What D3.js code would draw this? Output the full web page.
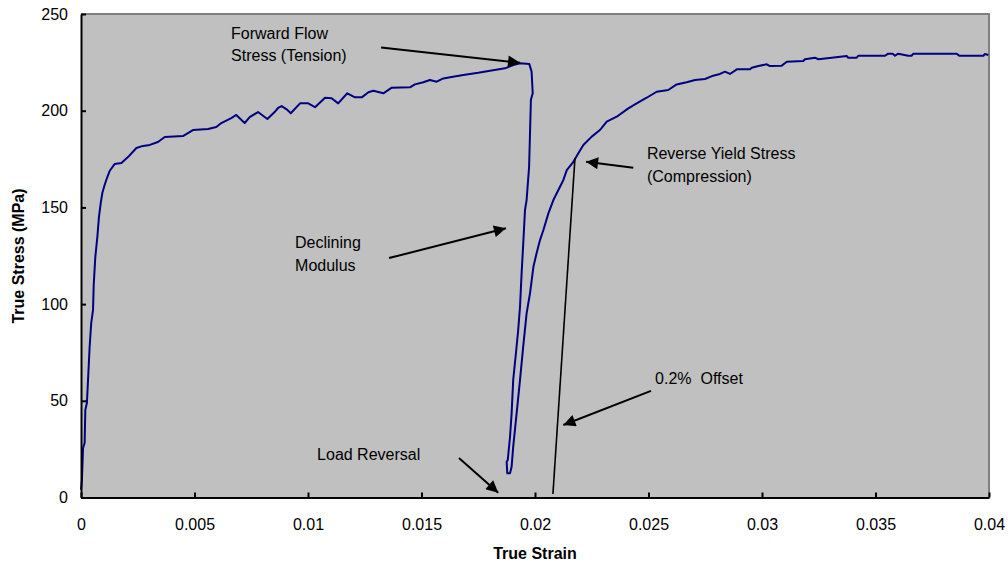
<!DOCTYPE html>
<html><head><meta charset="utf-8">
<script src="https://cdn.jsdelivr.net/npm/d3@7"></script>
<style>body{margin:0;background:#fff}svg{display:block}text{font-family:"Liberation Sans",Arial,sans-serif;white-space:pre}</style>
</head><body><svg id="c" width="1008" height="565"></svg>
<script>
// Strain values (true strain) and stress values (MPa)
const strain = [0,0.00004,0.00009,0.00016,0.00019,0.00026,0.00031,0.00038,0.00045,0.00053,0.00056,0.00063,0.00072,0.00079,0.00087,0.00094,0.00104,0.00116,0.00126,0.00148,0.00178,0.00207,0.00244,0.00273,0.00303,0.00339,0.00369,0.00449,0.00493,0.0056,0.00596,0.00618,0.00662,0.00684,0.00721,0.00743,0.0078,0.00821,0.00853,0.00868,0.00884,0.00906,0.00924,0.00965,0.01001,0.01031,0.01075,0.01104,0.01133,0.01173,0.01207,0.01237,0.01266,0.01288,0.01332,0.01369,0.01449,0.01471,0.01508,0.01537,0.01567,0.01596,0.01626,0.01684,0.0175,0.01802,0.01868,0.01904,0.01934,0.01975,0.01985,0.0199,0.01982,0.01978,0.01974,0.01963,0.01956,0.01949,0.01941,0.01934,0.01926,0.01916,0.01904,0.01897,0.0189,0.0188,0.01875,0.01878,0.0189,0.01897,0.01904,0.01919,0.01934,0.01948,0.01963,0.01978,0.01993,0.02007,0.02022,0.02037,0.02059,0.02081,0.02103,0.02125,0.0214,0.02169,0.02191,0.02213,0.0225,0.02286,0.02316,0.0236,0.02411,0.02448,0.02492,0.02536,0.02587,0.02624,0.02668,0.02705,0.02749,0.02785,0.02815,0.02837,0.02859,0.02889,0.02947,0.02955,0.02984,0.03021,0.03035,0.03087,0.03109,0.03182,0.03189,0.03233,0.03248,0.03307,0.03373,0.0338,0.03417,0.03424,0.03542,0.03556,0.03576,0.03586,0.036,0.03644,0.03659,0.03667,0.03858,0.03869,0.03975,0.03982,0.03997];
const stress = [4,9,25.6,28.2,45.2,48.9,60.8,77.8,90.2,97,109.9,124.3,134.7,145,152.3,157.4,161.6,165.7,168.8,172.4,173,176,180.7,181.8,182.3,183.8,186.4,186.9,190,190.5,191.6,193.6,196.2,197.8,193.6,196.7,199.3,195.7,199.3,201.4,202.4,200.7,198.7,203.8,203.8,201.8,206.7,206.4,203.8,209,206.9,206.9,209.5,210.3,209,211.9,212.1,213.6,214.7,215.9,215,216.7,217.3,218.5,219.6,220.7,221.9,223.6,224.5,224.1,220.2,209,205.7,188.3,171,153.8,148.7,133.1,115.9,98.7,86.6,74.6,60.8,43.5,31.4,19.4,18.5,12.5,12.5,15.9,26.3,43.5,60.8,78,95.2,105.6,119.3,126.3,133.1,138.3,146.9,153.8,159,164.2,169.3,173.6,178,182.3,186.6,190,194.3,196.9,201.2,203.8,206.7,209.8,210.7,213.6,214.7,215.9,216.4,218.1,219,220.2,219,221.4,221.4,222.2,223.1,224,223.1,223.3,225.3,225.7,226.6,227.4,226.6,227.4,228.3,227.4,227.4,228.4,228.4,229.5,229.5,228.4,229.5,228.4,228.4,229.5,229.5,228.4,228.4,229.3,228.8];
// 0.2% offset line endpoints
const offsetStrain = [0.02079, 0.02176];
const offsetStress = [1.8, 175.5];
const xTicks = [0,0.005,0.01,0.015,0.02,0.025,0.03,0.035,0.04];
const xTickLabels = ["0","0.005","0.01","0.015","0.02","0.025","0.03","0.035","0.04"];
const yTicks = [0,50,100,150,200,250];
const xTitle = "True Strain";
const yTitle = "True Stress (MPa)";
// annotations: text lines at data anchor, arrows tail->tip in data coords
const noteLines = [["Forward Flow","Stress (Tension)"],["Reverse Yield Stress","(Compression)"],["Declining","Modulus"],["0.2%  Offset"],["Load Reversal"]];
const noteX = [0.00661,0.02493,0.00943,0.02529,0.0104];
const noteY = [237.1,175,129,58.7,19.4];
const arrowFromX = [0.01322,0.02433,0.01357,0.02511,0.01665];
const arrowFromY = [232.7,170.5,123.8,55.1,20.4];
const arrowToX = [0.01934,0.02225,0.01872,0.02125,0.01838];
const arrowToY = [224.8,173.6,139.2,37.5,2.5];

const L=81,R=989,T=14,B=497.5;
const svg=d3.select("#c");
const x=d3.scaleLinear().domain([0,0.04]).range([L,R]);
const y=d3.scaleLinear().domain([0,250]).range([B,T]);

svg.append("rect").attr("x",L).attr("y",T).attr("width",R-L).attr("height",B-T).attr("fill","#c0c0c0");
svg.append("path").attr("d",`M${L},${T}H${R}V${B}`).attr("fill","none").attr("stroke","#808080").attr("stroke-width",2);

const defs=svg.append("defs");
defs.append("marker").attr("id","ah").attr("viewBox","0 0 10 10").attr("refX",10).attr("refY",5)
  .attr("markerWidth",7).attr("markerHeight",6).attr("markerUnits","strokeWidth").attr("orient","auto")
  .append("path").attr("d","M0,0L10,5L0,10Z").attr("fill","#000");

// curve
const pts=strain.map((s,i)=>[s,stress[i]]);
svg.append("path").datum(pts).attr("d",d3.line().x(d=>x(d[0])).y(d=>y(d[1])))
  .attr("fill","none").attr("stroke","#000080").attr("stroke-width",2).attr("stroke-linejoin","round");

// offset line
svg.append("line").attr("x1",x(offsetStrain[0])).attr("y1",y(offsetStress[0])).attr("x2",x(offsetStrain[1])).attr("y2",y(offsetStress[1]))
  .attr("stroke","#000").attr("stroke-width",1.6);

// axes
const xa=svg.append("g").attr("transform",`translate(0,${B})`).call(d3.axisBottom(x).tickValues(xTicks).tickFormat((d,i)=>xTickLabels[i]).tickSizeInner(-5).tickSizeOuter(0).tickPadding(21));
const ya=svg.append("g").attr("transform",`translate(${L},0)`).call(d3.axisLeft(y).tickValues(yTicks).tickSizeInner(-5).tickSizeOuter(0).tickPadding(13));
[xa,ya].forEach(g=>{g.select(".domain").attr("stroke","#000").attr("stroke-width",2);
  g.selectAll(".tick line").attr("stroke","#000").attr("stroke-width",2);
  g.selectAll("text").attr("font-size",16).attr("fill","#000").attr("font-family","Liberation Sans, Arial, sans-serif");});

svg.append("text").attr("x",535).attr("y",559).attr("text-anchor","middle").attr("font-weight","bold").attr("font-size",16).text(xTitle);
svg.append("text").attr("transform","translate(24,256) rotate(-90)").attr("text-anchor","middle").attr("font-weight","bold").attr("font-size",16).text(yTitle);

// arrows
arrowFromX.forEach((fx,i)=>{
  svg.append("line").attr("x1",x(fx)).attr("y1",y(arrowFromY[i])).attr("x2",x(arrowToX[i])).attr("y2",y(arrowToY[i]))
   .attr("stroke","#000").attr("stroke-width",2).attr("marker-end","url(#ah)");
});
// notes
noteLines.forEach((lines,i)=>{
  const t=svg.append("text").attr("x",x(noteX[i])).attr("y",y(noteY[i])).attr("font-size",16).attr("fill","#000").attr("xml:space","preserve");
  lines.forEach((ln,j)=>t.append("tspan").attr("x",x(noteX[i])).attr("dy",j?22.5:0).text(ln));
});
</script></body></html>
